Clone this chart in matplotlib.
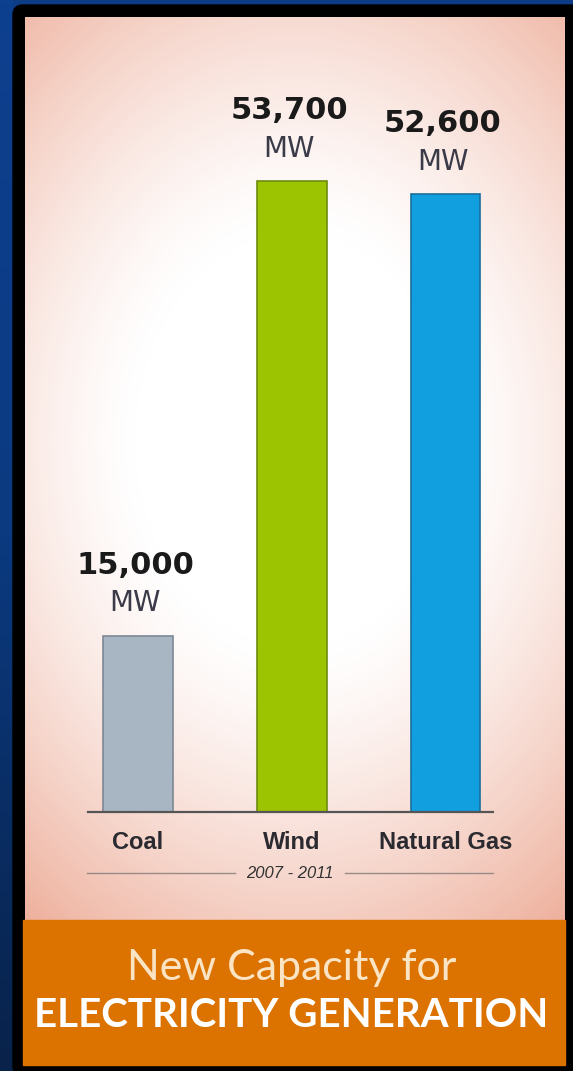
import numpy as np
import matplotlib
matplotlib.use("Agg")
import matplotlib.pyplot as plt
from matplotlib.patches import Rectangle, FancyBboxPatch
from matplotlib import font_manager

categories = ["Coal", "Wind", "Natural Gas"]
capacity_mw = [15000, 53700, 52600]
value_labels = ["15,000", "53,700", "52,600"]
bar_colors = ["#a8b6c4", "#9cc400", "#129fdf"]
edge_colors = ["#7c8894", "#6f8c10", "#1a6f9c"]
period = "2007 - 2011"
title_line1 = "New Capacity for"
title_line2 = "ELECTRICITY GENERATION"

W, H = 573, 1071

names = {f.name for f in font_manager.fontManager.ttflist}
narrow = "Liberation Sans Narrow" if "Liberation Sans Narrow" in names else "Liberation Sans"

fig = plt.figure(figsize=(W / 100, H / 100), dpi=100)

# background frame, in pixel coordinates
bg = fig.add_axes([0, 0, 1, 1])
bg.set_xlim(0, W)
bg.set_ylim(H, 0)
bg.axis("off")

# navy strip on the left fading darker towards the bottom
navy = np.linspace(0, 1, 256).reshape(-1, 1)
navy_cmap = matplotlib.colors.LinearSegmentedColormap.from_list("navy", ["#0e4090", "#0b3a80", "#08224a"])
bg.add_patch(Rectangle((0, 0), W, H, color="#0c3c86", zorder=0))
bg.imshow(navy, cmap=navy_cmap, extent=(0, 13, H, 0), aspect="auto", zorder=1)
bg.add_patch(FancyBboxPatch((13, 5), W, H, boxstyle="round,pad=0,rounding_size=10",
                            color="black", zorder=2))

# radial pink-to-white panel
px0, px1, py0, py1 = 25, 565, 17, 921
xx, yy = np.meshgrid(np.linspace(px0, px1, 300), np.linspace(py0, py1, 500))
r = np.sqrt(((xx - 295) / 400) ** 2 + ((yy - 440) / 520) ** 2)
t = np.clip((r - 0.4) / 0.75, 0, 1) ** 1.3
pink = np.array([238, 176, 156]) / 255
white = np.array([1.0, 1.0, 1.0])
img = white * (1 - t[..., None]) + pink * t[..., None]
bg.imshow(img, extent=(px0, px1, py1, py0), aspect="auto", zorder=3, interpolation="bilinear")

# orange title box
bg.add_patch(Rectangle((23, 920), 542, 145, color="#dc7200", zorder=4))
bg.text(292, 980, title_line1, ha="center", va="baseline", fontsize=31,
        family="Lato", color="#fbe4c4", zorder=5)
bg.text(291, 1027, title_line2, ha="center", va="baseline", fontsize=29,
        family="Lato", fontweight="bold", color="white", zorder=5)

# period rule under the categories
bg.plot([87, 235], [873, 873], color="#9a8a86", lw=1, zorder=5)
bg.plot([345, 493], [873, 873], color="#9a8a86", lw=1, zorder=5)
bg.text(290, 874, period, ha="center", va="center", fontsize=12, family=narrow,
        style="italic", color="#333333", zorder=5)

# bar chart
base_px, top_px = 812, 17
ax = fig.add_axes([88 / W, (H - base_px) / H, (493 - 88) / W, (base_px - top_px) / H])
ax.patch.set_alpha(0)
ax.set_zorder(6)
x = np.arange(len(categories))
ax.bar(x, capacity_mw, width=0.455, color=bar_colors, edgecolor=edge_colors, linewidth=1.2)
ax.set_xlim(-0.325, 2.309)
ax.set_ylim(0, (base_px - top_px) / 11.75 * 1000)
for s in ["top", "right", "left"]:
    ax.spines[s].set_visible(False)
ax.spines["bottom"].set_color("#555555")
ax.spines["bottom"].set_linewidth(1.6)
ax.set_yticks([])
ax.set_xticks(x)
ax.set_xticklabels(categories, fontsize=17, fontweight="bold", family=narrow, color="#2a2a30")
ax.tick_params(axis="x", length=0, pad=14)

for xi, v, lab in zip(x, capacity_mw, value_labels):
    ax.annotate(lab, (xi, v), xytext=(-2, 44.5), textcoords="offset points",
                ha="center", va="baseline", fontsize=22, fontweight="bold",
                family="DejaVu Sans", color="#1a1a1a")
    ax.annotate("MW", (xi, v), xytext=(-2, 17.5), textcoords="offset points",
                ha="center", va="baseline", fontsize=20, family="DejaVu Sans",
                color="#3a3a48")

fig.savefig("out.png", dpi=100)
